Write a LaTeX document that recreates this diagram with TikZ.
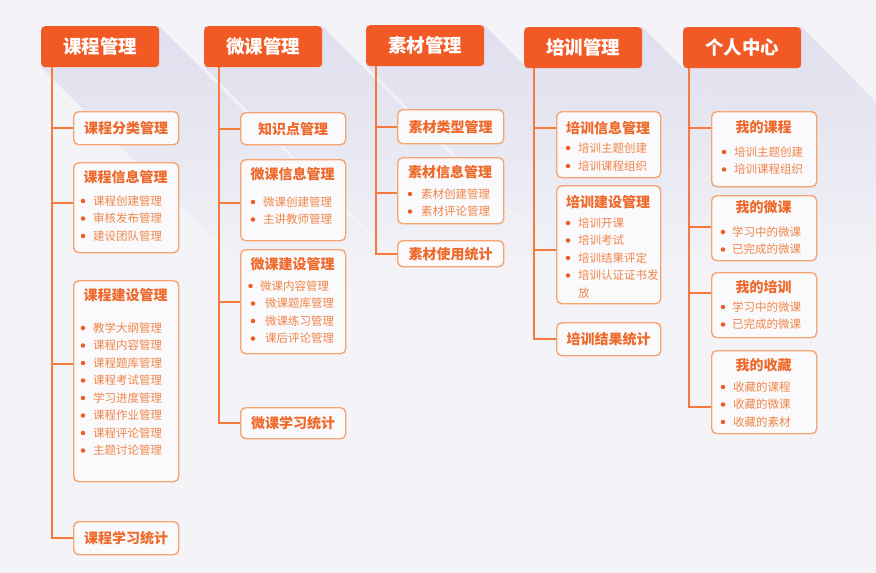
\documentclass[tikz,border=0pt]{standalone}
\usepackage{fontspec}
\setmainfont{Noto Sans CJK SC}
\usetikzlibrary{calc}
\definecolor{bgc}{HTML}{F4F4F8}
\definecolor{shadowc}{HTML}{DFDFEE}
\definecolor{hdrc}{HTML}{F15A24}
\definecolor{connc}{HTML}{F47B3C}
\definecolor{boxc}{HTML}{F6A470}
\definecolor{titlec}{HTML}{EE692A}
\definecolor{itemc}{HTML}{F08549}
\definecolor{dotc}{HTML}{EF5B25}
\definecolor{boxfill}{HTML}{FAFAFC}
\tikzset{
  hdr/.style={fill=hdrc, rounded corners=4pt, inner sep=0pt, text=white, anchor=north west,
    font=\fontsize{18.5}{21}\selectfont\bfseries, minimum width=118pt, minimum height=41pt},
  conn/.style={draw=connc, line width=2pt},
  box/.style={draw=boxc, fill=boxfill, line width=1.4pt, rounded corners=5pt, anchor=north west, inner sep=0pt},
  ttl/.style={text=titlec, font=\fontsize{14}{16}\selectfont\bfseries, inner sep=0pt},
  itm/.style={text=itemc, font=\fontsize{11.5}{13}\selectfont, inner sep=0pt, anchor=west},
  dot/.style={circle, fill=dotc, inner sep=0pt, minimum size=4.5pt},
  shd/.style={top color=shadowc, bottom color=bgc}
}
\begin{document}
\begin{tikzpicture}[x=1pt,y=-1pt]
\useasboundingbox (0,0) rectangle (876,573);
\fill[bgc] (0,0) rectangle (876,573);
% long shadows
\foreach \xa/\ya in {41/26,204/26,366/25,524/27,683/27}{
  \shade[shd] (\xa,\ya) -- ({\xa+118},\ya) -- ({\xa+118+230},{\ya+230}) -- ({\xa+118+230},{\ya+41+230})
    -- ({\xa+230},{\ya+41+230}) -- (\xa,{\ya+41}) -- cycle;
}
% ---------- column 1
\node[hdr] (h1) at (41,26) {课程管理};
\coordinate (t1) at (52,67);
\node[box, minimum width=105pt, minimum height=33pt] (c1b1) at (73,111) {};
\node[ttl] (c1b1t) at (c1b1.center) {课程分类管理};
\node[box, minimum width=105pt, minimum height=90pt] (c1b2) at (73,162) {};
\node[ttl] (c1b2t) at (125.5,177) {课程信息管理};
\node[dot] (c1b2d1) at (83,201) {}; \node[itm] (c1b2i1) at (93,201) {课程创建管理};
\node[dot] (c1b2d2) at (83,218.5) {}; \node[itm] (c1b2i2) at (93,218.5) {审核发布管理};
\node[dot] (c1b2d3) at (83,236) {}; \node[itm] (c1b2i3) at (93,236) {建设团队管理};
\node[box, minimum width=105pt, minimum height=201pt] (c1b3) at (73,280) {};
\node[ttl] (c1b3t) at (125.5,295) {课程建设管理};
\foreach \t [count=\i from 0] in {教学大纲管理,课程内容管理,课程题库管理,课程考试管理,学习进度管理,课程作业管理,课程评论管理,主题讨论管理}{
  \node[dot] (c1b3d\i) at (83,{328+17.5*\i}) {};
  \node[itm] (c1b3i\i) at (93,{328+17.5*\i}) {\t};
}
\node[box, minimum width=105pt, minimum height=33pt] (c1b4) at (73,521) {};
\node[ttl] (c1b4t) at (c1b4.center) {课程学习统计};
\coordinate (c1b2p) at ($(c1b2.north west)+(0,41)$);
\coordinate (c1b3p) at ($(c1b3.north west)+(0,84)$);
\draw[conn] (t1) |- (c1b4.west);
\draw[conn] (t1 |- c1b1.west) -- (c1b1.west);
\draw[conn] (t1 |- c1b2p) -- (c1b2p);
\draw[conn] (t1 |- c1b3p) -- (c1b3p);
% ---------- column 2
\node[hdr] (h2) at (204,26) {微课管理};
\coordinate (t2) at (219,67);
\node[box, minimum width=105pt, minimum height=32pt] (c2b1) at (240,112) {};
\node[ttl] (c2b1t) at (c2b1.center) {知识点管理};
\node[box, minimum width=105pt, minimum height=81pt] (c2b2) at (240,159) {};
\node[ttl] (c2b2t) at (292.5,174) {微课信息管理};
\node[dot] (c2b2d1) at (253,202) {}; \node[itm] (c2b2i1) at (263,202) {微课创建管理};
\node[dot] (c2b2d2) at (253,219.5) {}; \node[itm] (c2b2i2) at (263,219.5) {主讲教师管理};
\node[box, minimum width=105pt, minimum height=104pt] (c2b3) at (240,249) {};
\node[ttl] (c2b3t) at (292.5,264) {微课建设管理};
\node[dot] (c2b3d1) at (250.5,286) {}; \node[itm] (c2b3i1) at (260,286) {微课内容管理};
\node[dot] (c2b3d2) at (253,303.5) {}; \node[itm] (c2b3i2) at (265,303.5) {微课题库管理};
\node[dot] (c2b3d3) at (253,321) {}; \node[itm] (c2b3i3) at (265,321) {微课练习管理};
\node[dot] (c2b3d4) at (253,338.5) {}; \node[itm] (c2b3i4) at (265,338.5) {课后评论管理};
\node[box, minimum width=105pt, minimum height=31pt] (c2b4) at (240,407) {};
\node[ttl] (c2b4t) at (c2b4.center) {微课学习统计};
\coordinate (c2b2p) at ($(c2b2.north west)+(0,44)$);
\draw[conn] (t2) |- (c2b4.west);
\draw[conn] (t2 |- c2b1.west) -- (c2b1.west);
\draw[conn] (t2 |- c2b2p) -- (c2b2p);
\draw[conn] (t2 |- c2b3.west) -- (c2b3.west);
% ---------- column 3
\node[hdr] (h3) at (366,25) {素材管理};
\coordinate (t3) at (376,66);
\node[box, minimum width=106pt, minimum height=34pt] (c3b1) at (397,109) {};
\node[ttl] (c3b1t) at (c3b1.center) {素材类型管理};
\node[box, minimum width=106pt, minimum height=66pt] (c3b2) at (397,157) {};
\node[ttl] (c3b2t) at (450,172) {素材信息管理};
\node[dot] (c3b2d1) at (410,194) {}; \node[itm] (c3b2i1) at (421,194) {素材创建管理};
\node[dot] (c3b2d2) at (410,211.5) {}; \node[itm] (c3b2i2) at (421,211.5) {素材评论管理};
\node[box, minimum width=106pt, minimum height=26pt] (c3b3) at (397,240) {};
\node[ttl] (c3b3t) at (c3b3.center) {素材使用统计};
\coordinate (c3b2p) at ($(c3b2.north west)+(0,36)$);
\draw[conn] (t3) |- (c3b3.west);
\draw[conn] (t3 |- c3b1.west) -- (c3b1.west);
\draw[conn] (t3 |- c3b2p) -- (c3b2p);
% ---------- column 4
\node[hdr] (h4) at (524,27) {培训管理};
\coordinate (t4) at (534,68);
\node[box, minimum width=104pt, minimum height=66pt] (c4b1) at (556,111) {};
\node[ttl] (c4b1t) at (608,128) {培训信息管理};
\node[dot] (c4b1d1) at (568,148) {}; \node[itm] (c4b1i1) at (578,148) {培训主题创建};
\node[dot] (c4b1d2) at (568,166) {}; \node[itm] (c4b1i2) at (578,166) {培训课程组织};
\node[box, minimum width=104pt, minimum height=118pt] (c4b2) at (556,185) {};
\node[ttl] (c4b2t) at (608,202) {培训建设管理};
\node[dot] (c4b2d1) at (568,223) {}; \node[itm] (c4b2i1) at (578,223) {培训开课};
\node[dot] (c4b2d2) at (568,240.5) {}; \node[itm] (c4b2i2) at (578,240.5) {培训考试};
\node[dot] (c4b2d3) at (568,258) {}; \node[itm] (c4b2i3) at (578,258) {培训结果评定};
\node[dot] (c4b2d4) at (568,275.5) {}; \node[itm] (c4b2i4) at (578,275.5) {培训认证证书发};
\node[itm] (c4b2i4b) at (578,293) {放};
\node[box, minimum width=104pt, minimum height=33pt] (c4b3) at (556,322) {};
\node[ttl] (c4b3t) at (c4b3.center) {培训结果统计};
\coordinate (c4b1p) at ($(c4b1.north west)+(0,17)$);
\coordinate (c4b2p) at ($(c4b2.north west)+(0,65)$);
\draw[conn] (t4) |- (c4b3.west);
\draw[conn] (t4 |- c4b1p) -- (c4b1p);
\draw[conn] (t4 |- c4b2p) -- (c4b2p);
% ---------- column 5
\node[hdr] (h5) at (683,27) {个人中心};
\coordinate (t5) at (689,68);
\node[box, minimum width=105pt, minimum height=75pt] (c5b1) at (711,111) {};
\node[ttl] (c5b1t) at (763.5,127) {我的课程};
\node[dot] (c5b1d1) at (724,152) {}; \node[itm] (c5b1i1) at (734,152) {培训主题创建};
\node[dot] (c5b1d2) at (724,169.5) {}; \node[itm] (c5b1i2) at (734,169.5) {培训课程组织};
\node[box, minimum width=105pt, minimum height=65pt] (c5b2) at (711,195) {};
\node[ttl] (c5b2t) at (763.5,207) {我的微课};
\node[dot] (c5b2d1) at (723,232) {}; \node[itm] (c5b2i1) at (732,232) {学习中的微课};
\node[dot] (c5b2d2) at (723,249.5) {}; \node[itm] (c5b2i2) at (732,249.5) {已完成的微课};
\node[box, minimum width=105pt, minimum height=65pt] (c5b3) at (711,272) {};
\node[ttl] (c5b3t) at (763.5,287) {我的培训};
\node[dot] (c5b3d1) at (723,307) {}; \node[itm] (c5b3i1) at (732,307) {学习中的微课};
\node[dot] (c5b3d2) at (723,324.5) {}; \node[itm] (c5b3i2) at (732,324.5) {已完成的微课};
\node[box, minimum width=105pt, minimum height=83pt] (c5b4) at (711,350) {};
\node[ttl] (c5b4t) at (763.5,365) {我的收藏};
\node[dot] (c5b4d1) at (723,387) {}; \node[itm] (c5b4i1) at (733,387) {收藏的课程};
\node[dot] (c5b4d2) at (723,404.5) {}; \node[itm] (c5b4i2) at (733,404.5) {收藏的微课};
\node[dot] (c5b4d3) at (723,422) {}; \node[itm] (c5b4i3) at (733,422) {收藏的素材};
\coordinate (c5b1p) at ($(c5b1.north west)+(0,17)$);
\coordinate (c5b2p) at ($(c5b2.north west)+(0,32)$);
\coordinate (c5b3p) at ($(c5b3.north west)+(0,21)$);
\coordinate (c5b4p) at ($(c5b4.north west)+(0,57)$);
\draw[conn] (t5) |- (c5b4p);
\draw[conn] (t5 |- c5b1p) -- (c5b1p);
\draw[conn] (t5 |- c5b2p) -- (c5b2p);
\draw[conn] (t5 |- c5b3p) -- (c5b3p);
\end{tikzpicture}
\end{document}
